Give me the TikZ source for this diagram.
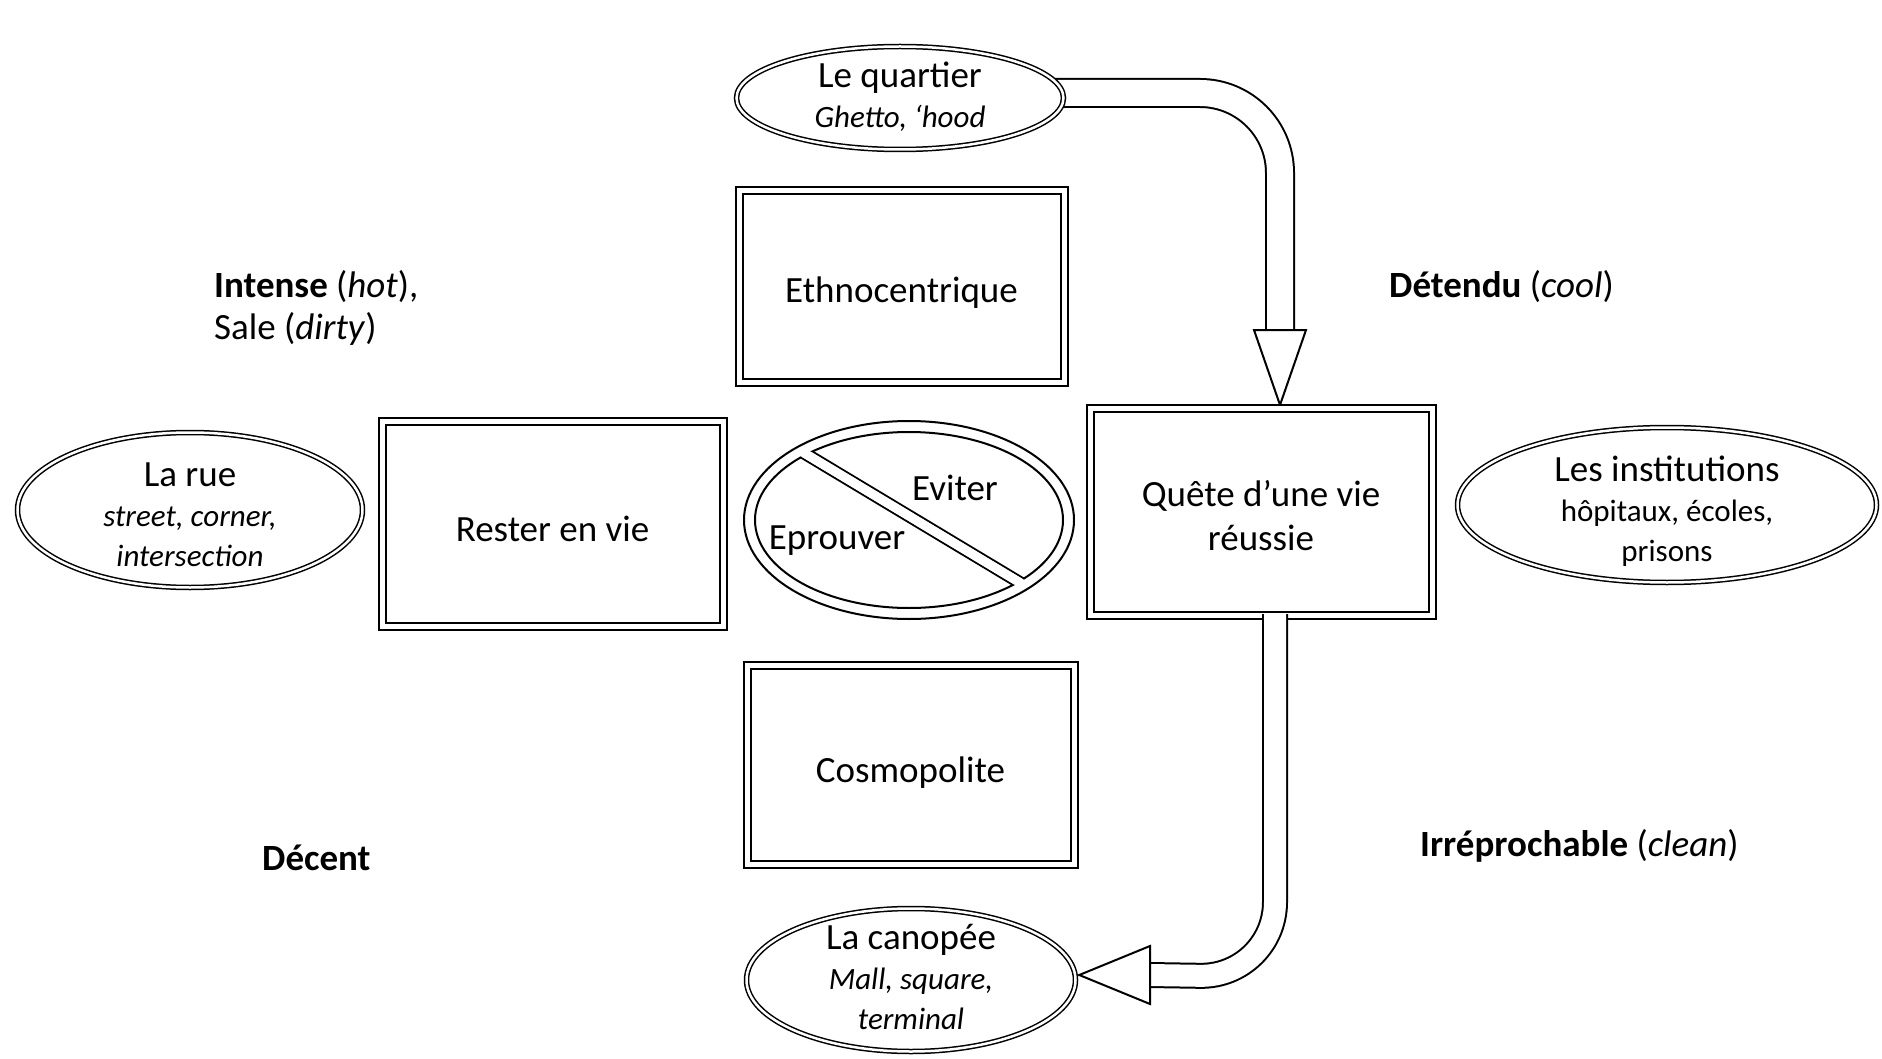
\documentclass[tikz,border=0pt]{standalone}
\usepackage{fontspec}
\setmainfont{Carlito}
\usetikzlibrary{shapes.geometric,calc,backgrounds}
\newcommand\subline{\fontsize{31}{40}\selectfont}
\begin{document}
\begin{tikzpicture}[x=1pt,y=-1pt,
  box/.style={draw, line width=2pt, double, double distance=5pt, fill=white, inner sep=0pt},
  oval/.style={ellipse, draw, line width=1.5pt, double, double distance=2.5pt, fill=white, inner sep=0pt},
  big/.style={font=\fontsize{37}{40}\selectfont, align=center, inner sep=0pt},
  lbl/.style={font=\fontsize{37}{42}\selectfont, align=left, inner sep=0pt, anchor=west},
  band/.style={line width=2pt, double, line join=round},
  head/.style={draw, fill=white, line width=2pt, line join=miter},
]
\useasboundingbox (0,0) rectangle (1882,1059);

% boxes
\node[box, minimum width=325pt, minimum height=191pt] (ethno) at (901.5,286.5) {};
\node[box, minimum width=341pt, minimum height=205pt] (rester) at (552.5,523.5) {};
\node[box, minimum width=342pt, minimum height=207pt] (quete) at (1261,511.5) {};
\node[box, minimum width=327pt, minimum height=199pt] (cosmo) at (910.5,764.5) {};

% ellipses
\node[oval, minimum width=327pt, minimum height=103pt] (quartier) at (900,98) {};
\node[oval, minimum width=345pt, minimum height=155pt] (rue) at (190,510) {};
\node[oval, minimum width=419pt, minimum height=155pt] (inst) at (1667,505) {};
\node[oval, minimum width=329pt, minimum height=143pt] (canopee) at (911,980) {};

% crossed ellipse
\node[ellipse, draw, line width=2pt, fill=white, minimum width=330pt, minimum height=198pt, inner sep=0pt] (cross) at (909,520) {};
\draw[line width=2pt] (cross.center) ellipse [x radius=154pt, y radius=88pt];
\coordinate (cc) at ($(cross.center)+(0,-4)$);
\coordinate (c1) at ($(cc)+(211:230)$);
\coordinate (c2) at ($(cc)+(31:230)$);
\begin{scope}
  \clip (cross.center) ellipse [x radius=154pt, y radius=88pt];
  \draw[line width=13pt] (c1) -- (c2);
  \draw[line width=9pt, white] (c1) -- (c2);
\end{scope}
\begin{scope}
  \clip (cross.center) ellipse [x radius=160pt, y radius=94pt];
  \draw[line width=9pt, white] (c1) -- (c2);
\end{scope}

% top block arrow (behind the ellipse)
\coordinate (a0) at ($(quartier.east)+(-20,-5)$);
\coordinate (a1) at (1280,93);
\coordinate (a2) at (1280,331);
\coordinate (atip) at ($(quete.north -| a1)+(0,-2)$);
\begin{scope}[on background layer]
  \draw[band, double distance=26pt, rounded corners=80pt] (a0) -- (a1) -- (a2);
  \draw[head] ($(a2)+(-26,-1)$) -- ($(a2)+(26,-1)$) -- (atip) -- cycle;
\end{scope}

% bottom block arrow
\coordinate (b0) at ($(quete.south)+(14,-2)$);
\coordinate (b1) at ($(b0)+(0,363)$);
\coordinate (b2) at (1149,975);
\coordinate (btip) at ($(b2 -| canopee.east)+(3,0)$);
\draw[band, double distance=22pt, rounded corners=75pt] (b0) -- (b1) -- (b2);
\draw[head] ($(b2)+(1,-29)$) -- ($(b2)+(1,29)$) -- (btip) -- cycle;

% texts
\node[big] (tethno) at ($(ethno.center)+(0,6)$) {Ethnocentrique};
\node[big] (trester) at ($(rester.center)+(0,5)$) {Rester en vie};
\node[big, font=\fontsize{37}{44}\selectfont] (tquete) at ($(quete.center)+(0,4)$) {Quête d’une vie\\réussie};
\node[big] (tcosmo) at ($(cosmo.center)+(0,8)$) {Cosmopolite};
\node[big] (tquartier) at ($(quartier.center)+(0,-1)$) {Le quartier\\{\subline\itshape Ghetto, ‘hood}};
\node[big] (true) at ($(rue.center)+(0,5)$) {La rue\\{\subline\itshape street, corner,}\\{\subline\itshape intersection}};
\node[big] (tinst) at ($(inst.center)+(0,6)$) {Les institutions\\{\subline hôpitaux, écoles,}\\{\subline prisons}};
\node[big] (tcanopee) at ($(canopee.center)+(0,-3)$) {La canopée\\{\subline\itshape Mall, square,}\\{\subline\itshape terminal}};
\node[big] (teviter) at (955,488) {Eviter};
\node[big] (teprouver) at (837,541) {Eprouver};

\node[lbl] (lintense) at (214,308) {\textbf{Intense} (\textit{hot}),\\Sale (\textit{dirty})};
\node[lbl] (ldetendu) at (1389,287) {\textbf{Détendu} (\textit{cool})};
\node[lbl] (ldecent) at (262,858) {\textbf{Décent}};
\node[lbl] (lirre) at (1420,846) {\textbf{Irréprochable} (\textit{clean})};
\end{tikzpicture}
\end{document}
